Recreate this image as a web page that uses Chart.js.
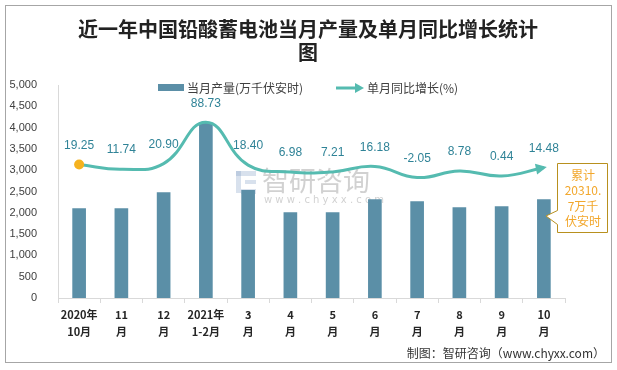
<!DOCTYPE html>
<html><head><meta charset="utf-8">
<script src="https://cdn.jsdelivr.net/npm/chart.js@4/dist/chart.umd.min.js"></script>
<style>html,body{margin:0;padding:0;background:#fff}#wrap{width:617px;height:370px;position:relative}</style>
</head><body><div id="wrap"><canvas id="c" width="617" height="370"></canvas></div>
<script>
const titleLines = ['近一年中国铅酸蓄电池当月产量及单月同比增长统计', '图'];
const categories = [['2020年','10月'],['11','月'],['12','月'],['2021年','1-2月'],['3','月'],['4','月'],['5','月'],['6','月'],['7','月'],['8','月'],['9','月'],['10','月']];
const production = [2100, 2100, 2475, 4100, 2525, 2005, 2005, 2310, 2265, 2120, 2145, 2310];
const growth = [19.25, 11.74, 20.90, 88.73, 18.40, 6.98, 7.21, 16.18, -2.05, 8.78, 0.44, 14.48];
const seriesNames = ['当月产量(万千伏安时)', '单月同比增长(%)'];
const yMin = 0, yMax = 5000, yStep = 500;
const y2Min = -200, y2Max = 150;
const noteLines = ['累计', '20310.', '7万千', '伏安时'];
const footerText = '制图：智研咨询（www.chyxx.com）';

const SANS = '"Noto Sans CJK SC","Noto Sans",sans-serif';
const BAR = '#5b8fa7', LINE = '#55bbb0', LBL = '#2f8397';

const deco = {
  id: 'deco',
  beforeDraw(chart) {
    const c = chart.ctx;
    c.save();
    c.fillStyle = '#fff'; c.fillRect(0, 0, 617, 370);
    c.strokeStyle = '#a6a6a6'; c.lineWidth = 1;
    c.strokeRect(5.5, 5.5, 606, 357);
    // title
    c.fillStyle = '#222'; c.textAlign = 'center'; c.textBaseline = 'middle';
    c.font = 'bold 20px ' + SANS;
    c.fillText(titleLines[0], 308, 29);
    c.fillText(titleLines[1], 308, 52);
    // legend
    c.fillStyle = BAR; c.fillRect(158, 84, 26, 7);
    c.fillStyle = '#404040'; c.textAlign = 'left'; c.font = '12px ' + SANS;
    c.fillText(seriesNames[0], 187, 88);
    c.strokeStyle = LINE; c.lineWidth = 3;
    c.beginPath(); c.moveTo(336, 88); c.lineTo(356, 88); c.stroke();
    c.fillStyle = LINE; c.beginPath(); c.moveTo(364, 88); c.lineTo(355, 83); c.lineTo(355, 93); c.closePath(); c.fill();
    c.fillStyle = '#404040';
    c.fillText(seriesNames[1], 367, 88);
    // watermark
    c.globalAlpha = 0.3;
    c.fillStyle = '#7f9cc4'; c.fillRect(236, 171, 20, 5); c.fillRect(236, 171, 5, 22); c.fillRect(245, 180, 11, 4); c.fillRect(241, 189, 15, 5);
    c.fillStyle = '#666'; c.font = '27px ' + SANS; c.textAlign = 'left';
    c.fillText('智研咨询', 262, 181);
    c.font = '10px "DejaVu Sans",sans-serif';
    c.fillText('w w w . c h y x x . c o m', 264, 200);
    c.restore();
  },
  afterDatasetsDraw(chart) {
    const c = chart.ctx;
    const meta = chart.getDatasetMeta(1);
    c.save();
    const pts = meta.data, last = pts[pts.length - 1];
    const px = last.cp1x !== undefined ? last.cp1x : pts[pts.length - 2].x;
    const py = last.cp1y !== undefined ? last.cp1y : pts[pts.length - 2].y;
    let dx = last.x - px, dy = last.y - py; const L = Math.hypot(dx, dy) || 1; dx /= L; dy /= L;
    const tipX = last.x + dx * 3, tipY = last.y + dy * 3;
    c.fillStyle = LINE; c.beginPath();
    c.moveTo(tipX, tipY);
    c.lineTo(tipX - dx * 11 - dy * 5.5, tipY - dy * 11 + dx * 5.5);
    c.lineTo(tipX - dx * 11 + dy * 5.5, tipY - dy * 11 - dx * 5.5);
    c.closePath(); c.fill();
    c.fillStyle = LBL; c.font = '12px "Liberation Sans",Arial,sans-serif';
    c.textAlign = 'center'; c.textBaseline = 'middle';
    pts.forEach((p, i) => c.fillText(growth[i].toFixed(2), p.x, p.y - 19));
    const bx = 557, by = 163, bw = 50, bh = 69;
    c.fillStyle = '#fff'; c.strokeStyle = '#b8901e'; c.lineWidth = 1;
    c.beginPath();
    c.moveTo(bx + .5, by + .5); c.lineTo(bx + bw + .5, by + .5); c.lineTo(bx + bw + .5, by + bh + .5);
    c.lineTo(bx + .5, by + bh + .5); c.lineTo(bx + .5, 224.5); c.lineTo(546, 216); c.lineTo(bx + .5, 210.5); c.closePath();
    c.fill(); c.stroke();
    c.fillStyle = '#f2a72c'; c.font = '12px ' + SANS;
    noteLines.forEach((t, i) => c.fillText(t, bx + bw / 2 + 1, 175 + i * 15.5));
    c.fillStyle = '#333'; c.textAlign = 'right'; c.font = '12px ' + SANS;
    c.fillText(footerText, 605, 353);
    c.restore();
  }
};

Chart.defaults.font.family = SANS;
new Chart(document.getElementById('c'), {
  data: {
    labels: categories,
    datasets: [
      { type: 'bar', label: seriesNames[0], data: production, backgroundColor: BAR, barThickness: 13, yAxisID: 'y', order: 2 },
      { type: 'line', label: seriesNames[1], data: growth, borderColor: LINE, borderWidth: 3, tension: 0.45,
        pointRadius: growth.map((v, i) => i === 0 ? 5 : 0), pointBackgroundColor: '#f5b21f', pointBorderWidth: 0,
        yAxisID: 'y1', order: 1, clip: false }
    ]
  },
  options: {
    responsive: false, animation: false, devicePixelRatio: 1,
    layout: { padding: { left: 0, right: 52, top: 85, bottom: 0 } },
    plugins: { legend: { display: false }, title: { display: false }, tooltip: { enabled: false } },
    scales: {
      x: {
        grid: { display: true, drawOnChartArea: false, drawTicks: true, tickLength: 5, color: '#d9d9d9', offset: true },
        border: { display: true, color: '#d9d9d9' },
        ticks: { color: '#262626', font: { size: 11, weight: 'bold', lineHeight: 1.55 }, padding: 3, maxRotation: 0, autoSkip: false },
        afterFit(s) { s.height = 72; }
      },
      y: {
        min: yMin, max: yMax,
        grid: { display: false },
        border: { display: true, color: '#d9d9d9' },
        ticks: { stepSize: yStep, color: '#404040', padding: 13, font: { size: 11, family: '"Liberation Sans",Arial,sans-serif' },
          callback: v => v.toLocaleString('en-US') },
        afterFit(s) { s.width = 58; }
      },
      y1: { display: false, min: y2Min, max: y2Max, position: 'right' }
    }
  },
  plugins: [deco]
});
</script></body></html>
